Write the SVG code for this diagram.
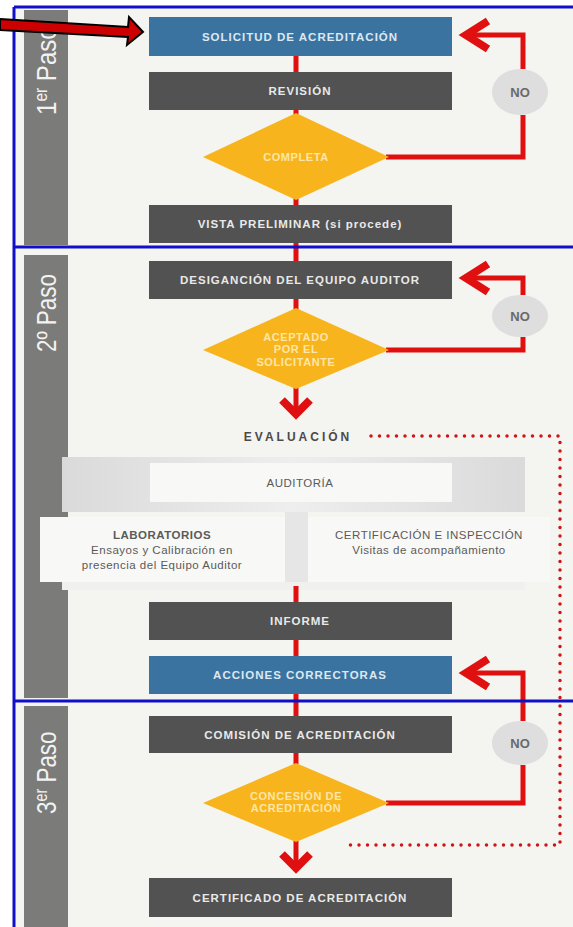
<svg xmlns="http://www.w3.org/2000/svg" width="573" height="927" viewBox="0 0 573 927">
<defs>
<style>
.bg{fill:#f4f4f1}
.side{fill:#7b7b79}
.dark{fill:#525252}
.blue{fill:#3b73a0}
.dia{fill:#f8b41c}
.lbl{font-family:"Liberation Sans",Arial,sans-serif;font-weight:bold;font-size:11.5px;letter-spacing:1px;text-anchor:middle;fill:#e9e9e9}
.blbl{fill:#dce8f2}
.dlbl{font-family:"Liberation Sans",Arial,sans-serif;font-weight:bold;font-size:11px;letter-spacing:0.6px;text-anchor:middle;fill:#fce6a8}
.step{font-family:"Liberation Sans",Arial,sans-serif;font-size:28px;fill:#f2f2f2}
.no{fill:#dedede}
.notxt{font-family:"Liberation Sans",Arial,sans-serif;font-weight:bold;font-size:13px;text-anchor:middle;fill:#6a6a6a}
.red{stroke:#e01010;stroke-width:5;fill:none}
.head{stroke:#e01010;stroke-width:8;fill:none;stroke-linejoin:miter;stroke-miterlimit:10}
.dot{stroke:#d01515;stroke-width:3.5;fill:none;stroke-dasharray:0 8.5;stroke-linecap:round}
.frame{stroke:#1010c8;stroke-width:3;fill:none}
.ptxt{font-family:"Liberation Sans",Arial,sans-serif;font-size:11.5px;text-anchor:middle;fill:#5a5a5a;letter-spacing:0.5px}
.pbox{fill:#f8f8f6}
</style>
<linearGradient id="pg" x1="0" x2="1" y1="0" y2="0">
<stop offset="0" stop-color="#dadada"/>
<stop offset="0.5" stop-color="#eeeeee"/>
<stop offset="1" stop-color="#dadada"/>
</linearGradient>
</defs>

<rect x="0" y="0" width="573" height="927" fill="#ffffff"/>
<rect class="bg" x="14" y="8" width="559" height="919"/>

<g id="sidebars">
<rect class="side" x="24" y="10" width="44" height="235"/>
<rect class="side" x="24" y="255" width="44" height="443"/>
<rect class="side" x="24" y="706" width="44" height="221"/>
<text class="step" transform="translate(56,115) rotate(-90) scale(0.86,1)">1<tspan font-size="18" dy="-9">er</tspan><tspan dy="9"> Paso</tspan></text>
<text class="step" transform="translate(56,352) rotate(-90) scale(0.8,1)">2º Paso</text>
<text class="step" transform="translate(56,814) rotate(-90) scale(0.8,1)">3<tspan font-size="18" dy="-9">er</tspan><tspan dy="9"> Paso</tspan></text>
</g>

<g id="audit-panel">
<rect x="62" y="457" width="463" height="55" fill="url(#pg)"/>
<rect x="285" y="512" width="23" height="78" fill="#e6e6e6"/>
<rect x="62" y="582" width="463" height="8" fill="#f0f0ee"/>
</g>

<g id="connectors">
<line class="red" x1="296" y1="56" x2="296" y2="72"/>
<line class="red" x1="296" y1="110" x2="296" y2="116"/>
<line class="red" x1="296" y1="198" x2="296" y2="205"/>
<line class="red" x1="296" y1="243" x2="296" y2="261"/>
<line class="red" x1="296" y1="299" x2="296" y2="310"/>
<line class="red" x1="296" y1="586" x2="296" y2="602"/>
<line class="red" x1="296" y1="640" x2="296" y2="656"/>
<line class="red" x1="296" y1="693" x2="296" y2="716"/>
<line class="red" x1="296" y1="753" x2="296" y2="764"/>
<!-- NO loop 1 -->
<polyline class="red" points="386,157 523,157 523,115"/>
<polyline class="red" points="523,69 523,35 470,35"/>
<polyline class="head" points="488,21 466,35 488,49"/>
<!-- NO loop 2 -->
<polyline class="red" points="386,350 523,350 523,337"/>
<polyline class="red" points="523,295 523,278 470,278"/>
<polyline class="head" points="488,264 466,278 488,292"/>
<!-- NO loop 3 -->
<polyline class="red" points="386,803 523,803 523,765"/>
<polyline class="red" points="523,721 523,673 470,673"/>
<polyline class="head" points="488,659 466,673 488,687"/>
<!-- down arrows -->
<line class="red" x1="296" y1="386" x2="296" y2="412" stroke-width="6"/>
<polyline class="head" points="282,400 296,414 310,400"/>
<line class="red" x1="296" y1="840" x2="296" y2="866" stroke-width="6"/>
<polyline class="head" points="282,854 296,868 310,854"/>
<!-- dotted evaluation loop -->
<polyline class="dot" points="371,436 560,436 560,845 347,845"/>
</g>

<g id="n-solicitud">
<rect class="blue" x="149" y="17" width="303" height="39"/>
<text class="lbl blbl" x="300" y="40.5">SOLICITUD DE ACREDITACIÓN</text>
</g>
<g id="n-revision">
<rect class="dark" x="149" y="72" width="303" height="38"/>
<text class="lbl" x="300" y="95">REVISIÓN</text>
</g>
<g id="n-completa">
<polygon class="dia" points="203,157 296,113 389,157 296,200"/>
<text class="dlbl" x="296" y="161">COMPLETA</text>
</g>
<g id="n-no1">
<ellipse class="no" cx="520" cy="92" rx="28" ry="23"/>
<text class="notxt" x="520" y="97">NO</text>
</g>
<g id="n-vista">
<rect class="dark" x="149" y="205" width="303" height="38"/>
<text class="lbl" x="300" y="228">VISTA PRELIMINAR (si procede)</text>
</g>

<g id="n-designacion">
<rect class="dark" x="149" y="261" width="303" height="38"/>
<text class="lbl" x="300" y="284">DESIGANCIÓN DEL EQUIPO AUDITOR</text>
</g>
<g id="n-aceptado">
<polygon class="dia" points="203,350 296,308 389,350 296,389"/>
<text class="dlbl" x="296" y="341">ACEPTADO</text>
<text class="dlbl" x="296" y="353">POR EL</text>
<text class="dlbl" x="296" y="366">SOLICITANTE</text>
</g>
<g id="n-no2">
<ellipse class="no" cx="520" cy="316" rx="28" ry="21"/>
<text class="notxt" x="520" y="321">NO</text>
</g>
<g id="n-evaluacion">
<text x="298" y="441" font-family="Liberation Sans, Arial, sans-serif" font-weight="bold" font-size="12" letter-spacing="3" text-anchor="middle" fill="#4a4a4a">EVALUACIÓN</text>
</g>
<g id="n-auditoria">
<rect class="pbox" x="150" y="463" width="302" height="39"/>
<text class="ptxt" x="300" y="487">AUDITORÍA</text>
</g>
<g id="n-laboratorios">
<rect class="pbox" x="40" y="517" width="245" height="65"/>
<text class="ptxt" x="162" y="539" font-weight="bold" letter-spacing="1">LABORATORIOS</text>
<text class="ptxt" x="162" y="554">Ensayos y Calibración en</text>
<text class="ptxt" x="162" y="569">presencia del Equipo Auditor</text>
</g>
<g id="n-certificacion">
<rect class="pbox" x="308" y="517" width="242" height="65"/>
<text class="ptxt" x="429" y="539" letter-spacing="0.8">CERTIFICACIÓN E INSPECCIÓN</text>
<text class="ptxt" x="429" y="554" letter-spacing="0.8">Visitas de acompañamiento</text>
</g>
<g id="n-informe">
<rect class="dark" x="149" y="602" width="303" height="38"/>
<text class="lbl" x="300" y="625">INFORME</text>
</g>
<g id="n-acciones">
<rect class="blue" x="149" y="656" width="303" height="38"/>
<text class="lbl blbl" x="300" y="679">ACCIONES CORRECTORAS</text>
</g>

<g id="n-comision">
<rect class="dark" x="149" y="716" width="303" height="37"/>
<text class="lbl" x="300" y="738.5">COMISIÓN DE ACREDITACIÓN</text>
</g>
<g id="n-concesion">
<polygon class="dia" points="203,803 296,763 389,803 296,842"/>
<text class="dlbl" x="296" y="800">CONCESIÓN DE</text>
<text class="dlbl" x="296" y="812">ACREDITACIÓN</text>
</g>
<g id="n-no3">
<ellipse class="no" cx="520" cy="743" rx="28" ry="22"/>
<text class="notxt" x="520" y="748">NO</text>
</g>
<g id="n-certificado">
<rect class="dark" x="149" y="878" width="303" height="39"/>
<text class="lbl" x="300" y="901.5">CERTIFICADO DE ACREDITACIÓN</text>
</g>

<g id="frame">
<line class="frame" x1="14" y1="7" x2="573" y2="7"/>
<line class="frame" x1="14" y1="7" x2="14" y2="927"/>
<line class="frame" x1="14" y1="247" x2="573" y2="247"/>
<line class="frame" x1="14" y1="701" x2="573" y2="701"/>
</g>

<g id="pointer">
<polygon points="0,19 128,27 129,17 143,32 127,45 128,37 0,30" fill="#cc0000" stroke="#000000" stroke-width="2" stroke-linejoin="miter"/>
</g>
</svg>
